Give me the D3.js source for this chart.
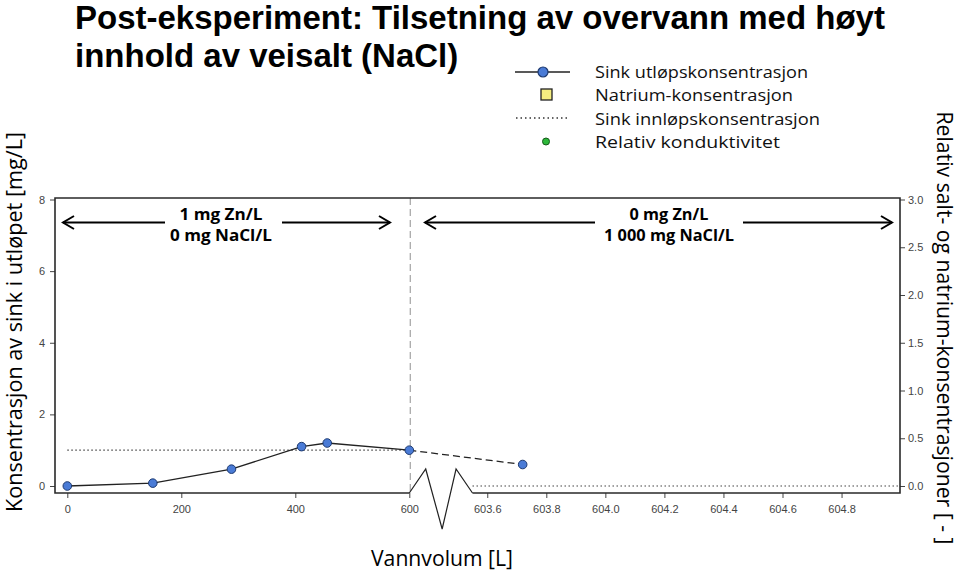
<!DOCTYPE html>
<html>
<head>
<meta charset="utf-8">
<script src="https://cdn.jsdelivr.net/npm/d3@7/dist/d3.min.js"></script>
<style>
  html, body { margin: 0; padding: 0; background: #fff; }
  svg { display: block; }
</style>
</head>
<body>
<svg id="chart" width="960" height="571"></svg>
<script>
// ---------------- data ----------------
const zincVolume = [0, 150, 288, 411, 456, 600, 603.72];     // L
const zincConc   = [0.0, 0.08, 0.47, 1.1, 1.2, 1.0, 0.6];    // mg/L
const inflowLeftVolume  = [0, 600];
const inflowLeftConc    = [1.0, 1.0];
const inflowRightVolume = [603.55, 605.0];
const inflowRightConc   = [0.0, 0.0];
const xTicksLeft  = [0, 200, 400, 600];
const xTicksRight = [603.6, 603.8, 604.0, 604.2, 604.4, 604.6, 604.8];
const yTicksLeft  = [0, 2, 4, 6, 8];
const yTicksRight = [0, 0.5, 1.0, 1.5, 2.0, 2.5, 3.0];
const legendLabels = ["Sink utløpskonsentrasjon", "Natrium-konsentrasjon", "Sink innløpskonsentrasjon", "Relativ konduktivitet"];
const titleLines = ["Post-eksperiment: Tilsetning av overvann med høyt", "innhold av veisalt (NaCl)"];

// ---------------- layout ----------------
const frame = { left: 55, right: 900, top: 198, bottom: 493 };
const svg = d3.select("#chart");

const xL = d3.scaleLinear().domain([0, 600]).range([67.3, 409.3]);
const xR = d3.scaleLinear().domain([603.4, 605.0]).range([428.2, 900.6]);
const pos = v => (v <= 600 ? xL(v) : xR(v));
const yL = d3.scaleLinear().domain([0, 8]).range([486, 199.5]);
const yR = d3.scaleLinear().domain([0, 3]).range([486, 199.5]);

const tickFont = "Liberation Sans, Arial, sans-serif";
const labelFont = "Open Sans, Noto Sans, sans-serif";

// title
svg.append("g").selectAll("text").data(titleLines).join("text")
  .attr("x", 75).attr("y", (d, i) => 29 + i * 38)
  .attr("font-family", tickFont).attr("font-weight", "bold")
  .attr("font-size", 33).attr("fill", "#000").text(d => d);

// legend
const legY = [71, 94.5, 118, 141.5];
const leg = svg.append("g");
legendLabels.forEach((t, i) => {
  leg.append("text").attr("x", 595).attr("y", legY[i])
    .attr("dominant-baseline", "central")
    .attr("font-family", labelFont).attr("font-size", 17)
    .attr("textLength", [213, 198, 225, 185][i]).attr("lengthAdjust", "spacingAndGlyphs")
    .attr("fill", "#111").text(t);
});
leg.append("line").attr("x1", 515).attr("x2", 570).attr("y1", legY[0] + 1).attr("y2", legY[0] + 1)
  .attr("stroke", "#222").attr("stroke-width", 1.6);
leg.append("circle").attr("cx", 543).attr("cy", legY[0] + 1).attr("r", 5)
  .attr("fill", "#4a7bd6").attr("stroke", "#1e3a70").attr("stroke-width", 1.2);
leg.append("rect").attr("x", 541).attr("y", legY[1] - 5.5).attr("width", 11).attr("height", 11)
  .attr("fill", "#f5ee80").attr("stroke", "#222").attr("stroke-width", 1.3);
leg.append("line").attr("x1", 516).attr("x2", 569).attr("y1", legY[2]).attr("y2", legY[2])
  .attr("stroke", "#333").attr("stroke-width", 1.4).attr("stroke-dasharray", "1.5,3");
leg.append("circle").attr("cx", 546).attr("cy", legY[3]).attr("r", 3.5)
  .attr("fill", "#2db83a").attr("stroke", "#145a1a").attr("stroke-width", 1);

// vertical dashed separator
svg.append("line").attr("x1", xL(600) + 1).attr("x2", xL(600) + 1)
  .attr("y1", frame.top).attr("y2", frame.bottom)
  .attr("stroke", "#aaa").attr("stroke-width", 1.3).attr("stroke-dasharray", "7,4");

// axes ticks
function styleAxis(g) {
  g.select(".domain").remove();
  g.selectAll(".tick line").attr("stroke", "#444").attr("stroke-width", 1);
  g.selectAll(".tick text").attr("fill", "#444").attr("font-family", tickFont).attr("font-size", 11);
}
svg.append("g").attr("transform", `translate(0,${frame.bottom})`)
  .call(d3.axisBottom(xL).tickValues(xTicksLeft).tickSize(5).tickPadding(7).tickFormat(d3.format("d")))
  .call(styleAxis);
svg.append("g").attr("transform", `translate(0,${frame.bottom})`)
  .call(d3.axisBottom(xR).tickValues(xTicksRight).tickSize(5).tickPadding(7).tickFormat(d3.format(".1f")))
  .call(styleAxis);
svg.append("g").attr("transform", `translate(${frame.left},0)`)
  .call(d3.axisLeft(yL).tickValues(yTicksLeft).tickSize(5).tickPadding(5).tickFormat(d3.format("d")))
  .call(styleAxis);
svg.append("g").attr("transform", `translate(${frame.right},0)`)
  .call(d3.axisRight(yR).tickValues(yTicksRight).tickSize(5).tickPadding(3).tickFormat(d3.format(".1f")))
  .call(styleAxis);

// frame with axis break
const fr = svg.append("g").attr("fill", "none").attr("stroke", "#2a2a2a").attr("stroke-width", 1.6);
const bx0 = xL(600), bx1 = xR(603.55), gap = bx1 - bx0;
fr.append("path").attr("d",
  `M${bx0},${frame.bottom} L${frame.left},${frame.bottom} L${frame.left},${frame.top} L${frame.right},${frame.top} L${frame.right},${frame.bottom} L${bx1},${frame.bottom}`);
fr.append("path").attr("stroke-width", 1.2).attr("stroke", "#222").attr("d",
  `M${bx0},${frame.bottom} L${bx0 + gap * 0.26},${frame.bottom - 24} L${bx0 + gap * 0.52},${frame.bottom + 36} L${bx0 + gap * 0.74},${frame.bottom - 24} L${bx1},${frame.bottom}`);

// inflow dotted lines
const line = d3.line().x(d => pos(d[0])).y(d => yL(d[1]));
[[inflowLeftVolume, inflowLeftConc], [inflowRightVolume, inflowRightConc]].forEach(([xs, ys]) => {
  svg.append("path").datum(xs.map((x, i) => [x, ys[i]])).attr("d", line)
    .attr("fill", "none").attr("stroke", "#444").attr("stroke-width", 1.2).attr("stroke-dasharray", "1.5,2.5");
});

// zinc outlet line
const zinc = zincVolume.map((x, i) => [x, zincConc[i]]);
const solid = zinc.filter(d => d[0] <= 600);
const dashed = zinc.filter(d => d[0] >= 600);
svg.append("path").datum(solid).attr("d", line).attr("fill", "none").attr("stroke", "#222").attr("stroke-width", 1.3);
svg.append("path").datum(dashed).attr("d", line).attr("fill", "none").attr("stroke", "#222").attr("stroke-width", 1.3)
  .attr("stroke-dasharray", "7,4");
svg.append("g").selectAll("circle").data(zinc).join("circle")
  .attr("cx", d => pos(d[0])).attr("cy", d => yL(d[1])).attr("r", 4.3)
  .attr("fill", "#4a7bd6").attr("stroke", "#1e3a70").attr("stroke-width", 1);

// annotations
const ann = svg.append("g");
function arrow(x0, x1, y, headAt) {
  ann.append("line").attr("x1", x0).attr("x2", x1).attr("y1", y).attr("y2", y)
    .attr("stroke", "#000").attr("stroke-width", 2);
  const hx = headAt === "left" ? x0 : x1, d = headAt === "left" ? 11 : -11;
  ann.append("path").attr("d", `M${hx + d},${y - 6.5} L${hx},${y} L${hx + d},${y + 6.5}`)
    .attr("fill", "none").attr("stroke", "#000").attr("stroke-width", 2);
}
const arrowY = 222.5;
arrow(63, 165, arrowY, "left");
arrow(282, 390, arrowY, "right");
arrow(425, 595, arrowY, "left");
arrow(743, 892, arrowY, "right");
const annText = [
  { cx: 221, lines: ["1 mg Zn/L", "0 mg NaCl/L"], w: [83, 102] },
  { cx: 669, lines: ["0 mg Zn/L", "1 000 mg NaCl/L"], w: [79, 130] }
];
annText.forEach(a => a.lines.forEach((s, i) => {
  ann.append("text").attr("x", a.cx).attr("y", 219.5 + i * 21.5).attr("text-anchor", "middle")
    .attr("font-family", labelFont).attr("font-weight", "bold").attr("font-size", 15.5)
    .attr("textLength", a.w[i]).attr("lengthAdjust", "spacingAndGlyphs")
    .attr("fill", "#000").text(s);
}));

// axis titles
svg.append("text").attr("transform", "translate(14,322) rotate(-90)")
  .attr("text-anchor", "middle").attr("dominant-baseline", "central")
  .attr("font-family", labelFont).attr("font-size", 21)
  .attr("textLength", 380).attr("lengthAdjust", "spacingAndGlyphs")
  .attr("fill", "#000").text("Konsentrasjon av sink i utløpet [mg/L]");
svg.append("text").attr("transform", "translate(945,328) rotate(90)")
  .attr("text-anchor", "middle").attr("dominant-baseline", "central")
  .attr("font-family", labelFont).attr("font-size", 21)
  .attr("textLength", 433).attr("lengthAdjust", "spacingAndGlyphs")
  .attr("fill", "#000").text("Relativ salt- og natrium-konsentrasjoner [ - ]");
svg.append("text").attr("x", 442).attr("y", 566).attr("text-anchor", "middle")
  .attr("font-family", labelFont).attr("font-size", 22)
  .attr("textLength", 142).attr("lengthAdjust", "spacingAndGlyphs")
  .attr("fill", "#000").text("Vannvolum [L]");
</script>
</body>
</html>
